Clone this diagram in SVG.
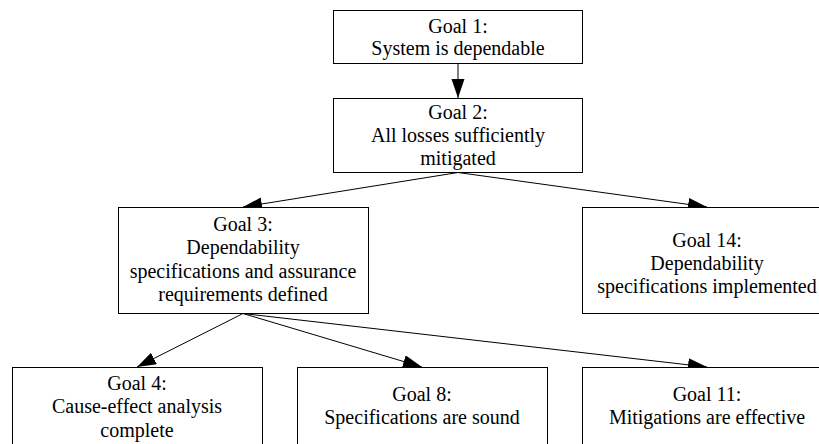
<svg xmlns="http://www.w3.org/2000/svg" width="819" height="444" viewBox="0 0 819 444">
<style>
.box{fill:#fff;stroke:#000;stroke-width:1}
.t{font-size:20px;fill:#000;text-anchor:middle}
.c{stroke:#000;stroke-width:1;fill:none;marker-end:url(#ah)}
</style>
<defs>
<marker id="ah" markerUnits="userSpaceOnUse" markerWidth="20" markerHeight="14" refX="19" refY="6.5" orient="auto">
<path d="M0,0 L19,6.5 L0,13 z" fill="#000"/>
</marker>
</defs>
<rect width="819" height="444" fill="#fff"/>
<g id="connectors">
<line class="c" x1="458" y1="63.5" x2="458" y2="98"/>
<line class="c" x1="458" y1="172.5" x2="243" y2="207"/>
<line class="c" x1="458" y1="172.5" x2="707" y2="207"/>
<line class="c" x1="243" y1="313.5" x2="137" y2="367"/>
<line class="c" x1="243" y1="313.5" x2="422" y2="367"/>
<line class="c" x1="243" y1="313.5" x2="707" y2="367"/>
</g>
<g font-family="'Liberation Serif', 'Times New Roman', Times, 'DejaVu Serif', serif">
<g id="goal1">
<rect class="box" x="333.5" y="10.5" width="249" height="53"/>
<text class="t" x="458" y="33">Goal 1:</text>
<text class="t" x="458" y="55">System is dependable</text>
</g>
<g id="goal2">
<rect class="box" x="333.5" y="98.5" width="249" height="74"/>
<text class="t" x="458" y="119">Goal 2:</text>
<text class="t" x="458" y="142">All losses sufficiently</text>
<text class="t" x="458" y="165">mitigated</text>
</g>
<g id="goal3">
<rect class="box" x="118.5" y="207.5" width="250" height="106"/>
<text class="t" x="243" y="231">Goal 3:</text>
<text class="t" x="243" y="254">Dependability</text>
<text class="t" x="243" y="278">specifications and assurance</text>
<text class="t" x="243" y="301">requirements defined</text>
</g>
<g id="goal14">
<rect class="box" x="582.5" y="207.5" width="250" height="106"/>
<text class="t" x="707" y="247">Goal 14:</text>
<text class="t" x="707" y="270">Dependability</text>
<text class="t" x="707" y="293">specifications implemented</text>
</g>
<g id="goal4">
<rect class="box" x="12.5" y="367.5" width="250" height="80"/>
<text class="t" x="137" y="390">Goal 4:</text>
<text class="t" x="137" y="413">Cause-effect analysis</text>
<text class="t" x="137" y="437">complete</text>
</g>
<g id="goal8">
<rect class="box" x="297.5" y="367.5" width="250" height="80"/>
<text class="t" x="422" y="401">Goal 8:</text>
<text class="t" x="422" y="424">Specifications are sound</text>
</g>
<g id="goal11">
<rect class="box" x="582.5" y="367.5" width="250" height="80"/>
<text class="t" x="707" y="401">Goal 11:</text>
<text class="t" x="707" y="424">Mitigations are effective</text>
</g>
</g>
</svg>
